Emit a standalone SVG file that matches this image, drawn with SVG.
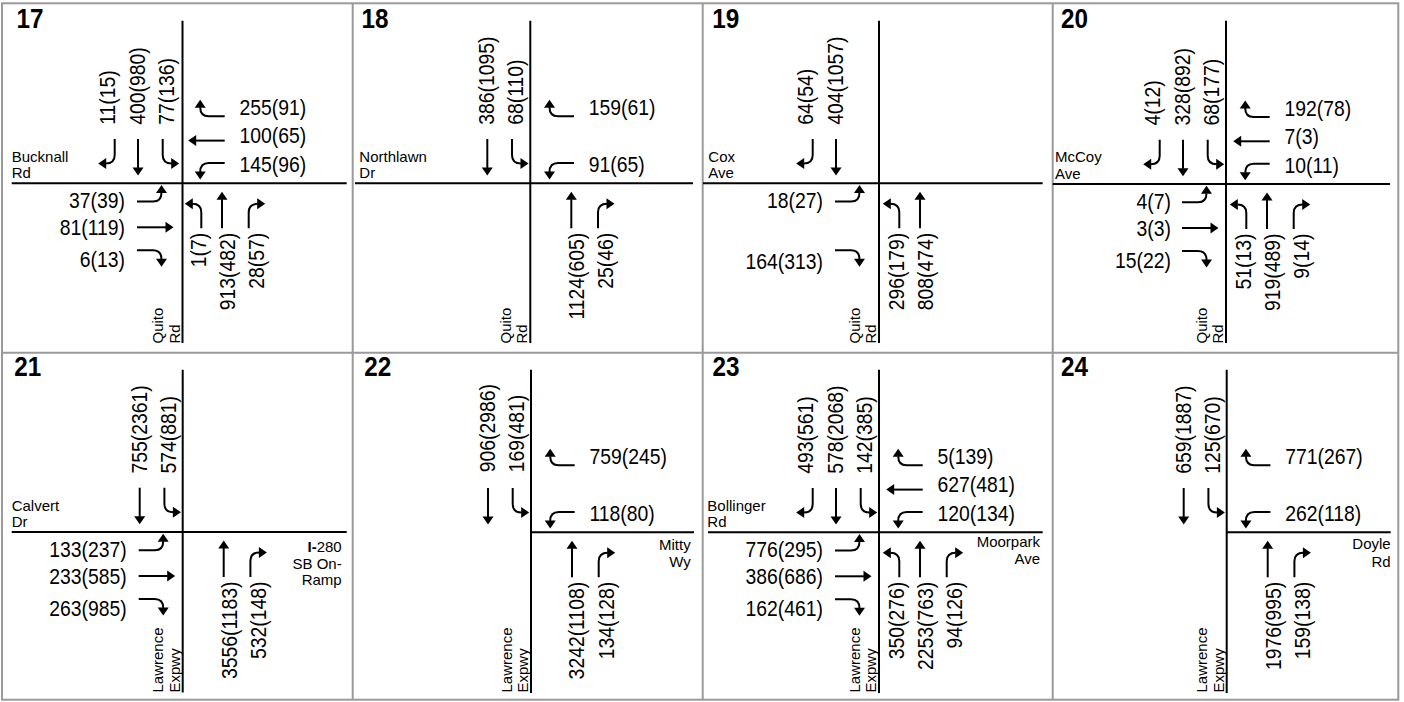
<svg xmlns="http://www.w3.org/2000/svg" width="1404" height="702" viewBox="0 0 1404 702">
<style>
.frame{fill:none;stroke:#9a9a9a;stroke-width:2}
.road{fill:none;stroke:#000;stroke-width:2}
.a{fill:none;stroke:#000;stroke-width:2;marker-end:url(#ah)}
.v{font-family:"Liberation Sans",Arial,sans-serif;font-size:22px;fill:#000}
.r{font-family:"Liberation Sans",Arial,sans-serif;font-size:15px;fill:#000}
.t{font-family:"Liberation Sans",Arial,sans-serif;font-size:27px;font-weight:bold;fill:#000}
.e{text-anchor:end}
</style>
<defs>
<marker id="ah" markerUnits="userSpaceOnUse" markerWidth="12" markerHeight="12" refX="0.5" refY="5.5" orient="auto" overflow="visible"><path d="M0,0 L8,5.5 L0,11 Z" fill="#000"/></marker>
<path id="dn" class="a" d="M0,0 V29"/>
<path id="dnL" class="a" d="M0,0 V16 Q0,24.5 -9,24.5"/>
<path id="dnR" class="a" d="M0,0 V16 Q0,24.5 9,24.5"/>
</defs>
<rect width="1404" height="702" fill="#fff"/>
<g id="frame">
<rect class="frame" x="2" y="3.3" width="1396.3" height="696.4"/>
<path class="frame" d="M352.7,3.3V699.7M702.7,3.3V699.7M1052.7,3.3V699.7M2,352.7H1398.3"/>
</g>

<g id="n17">
<text class="t" transform="translate(16.5,27.5) scale(.9,1)">17</text>
<path class="road" d="M182.5,20.7V343M11.7,183.3H346.7"/>
<text class="r" x="11.7" y="161.7">Bucknall</text>
<text class="r" x="11.7" y="178">Rd</text>
<text class="r" transform="translate(163,343.5) rotate(-90)">Quito</text>
<text class="r" transform="translate(179.5,343.5) rotate(-90)">Rd</text>
<g transform="translate(181,183.3)">
<g class="arrows">
<use href="#dnL" transform="translate(-66.3,-44.3)"/>
<use href="#dn" transform="translate(-43,-44.3)"/>
<use href="#dnR" transform="translate(-18.3,-44.3)"/>
<use href="#dnL" transform="translate(43.7,-67) rotate(90)"/>
<use href="#dn" transform="translate(43.7,-42.7) rotate(90)"/>
<use href="#dnR" transform="translate(43.7,-20.3) rotate(90)"/>
<use href="#dnR" transform="translate(-44,18.3) rotate(-90)"/>
<use href="#dn" transform="translate(-44,44) rotate(-90)"/>
<use href="#dnL" transform="translate(-44,67) rotate(-90)"/>
<use href="#dnR" transform="translate(20.3,45) rotate(180)"/>
<use href="#dn" transform="translate(41,45) rotate(180)"/>
<use href="#dnL" transform="translate(67.7,45) rotate(180)"/>
</g>
<text class="v" transform="translate(-66,-58.5) rotate(-90) scale(.88,1)">11(15)</text>
<text class="v" transform="translate(-36,-58.5) rotate(-90) scale(.88,1)">400(980)</text>
<text class="v" transform="translate(-7,-58.5) rotate(-90) scale(.88,1)">77(136)</text>
<text class="v" transform="translate(58.5,-68.5) scale(.88,1)">255(91)</text>
<text class="v" transform="translate(58.5,-40) scale(.88,1)">100(65)</text>
<text class="v" transform="translate(58.5,-11.5) scale(.88,1)">145(96)</text>
<text class="v e" transform="translate(-56,25) scale(.88,1)">37(39)</text>
<text class="v e" transform="translate(-56,52) scale(.88,1)">81(119)</text>
<text class="v e" transform="translate(-56,84) scale(.88,1)">6(13)</text>
<text class="v e" transform="translate(25,49.5) rotate(-90) scale(.88,1)">1(7)</text>
<text class="v e" transform="translate(54,49.5) rotate(-90) scale(.88,1)">913(482)</text>
<text class="v e" transform="translate(83,49.5) rotate(-90) scale(.88,1)">28(57)</text>
</g>
</g>

<g id="n18">
<text class="t" transform="translate(361.5,27.5) scale(.9,1)">18</text>
<path class="road" d="M530.3,20.7V343M355,183.3H693"/>
<text class="r" x="359.3" y="161.7">Northlawn</text>
<text class="r" x="359.3" y="178">Dr</text>
<text class="r" transform="translate(510.8,343.5) rotate(-90)">Quito</text>
<text class="r" transform="translate(527.3,343.5) rotate(-90)">Rd</text>
<g transform="translate(530.3,183.3)">
<g class="arrows">
<use href="#dn" transform="translate(-43,-44.3)"/>
<use href="#dnR" transform="translate(-18.3,-44.3)"/>
<use href="#dnL" transform="translate(43.7,-67) rotate(90)"/>
<use href="#dnR" transform="translate(43.7,-20.3) rotate(90)"/>
<use href="#dn" transform="translate(41,45) rotate(180)"/>
<use href="#dnL" transform="translate(67.7,45) rotate(180)"/>
</g>
<text class="v" transform="translate(-36,-58.5) rotate(-90) scale(.88,1)">386(1095)</text>
<text class="v" transform="translate(-7,-58.5) rotate(-90) scale(.88,1)">68(110)</text>
<text class="v" transform="translate(58.5,-68.5) scale(.88,1)">159(61)</text>
<text class="v" transform="translate(58.5,-11.5) scale(.88,1)">91(65)</text>
<text class="v e" transform="translate(54,49.5) rotate(-90) scale(.88,1)">1124(605)</text>
<text class="v e" transform="translate(83,49.5) rotate(-90) scale(.88,1)">25(46)</text>
</g>
</g>

<g id="n19">
<text class="t" transform="translate(712.3,27.5) scale(.9,1)">19</text>
<path class="road" d="M879,20.7V343M703,183.3H1042.7"/>
<text class="r" x="708.3" y="161.7">Cox</text>
<text class="r" x="708.3" y="178">Ave</text>
<text class="r" transform="translate(859.5,343.5) rotate(-90)">Quito</text>
<text class="r" transform="translate(876,343.5) rotate(-90)">Rd</text>
<g transform="translate(879,183.3)">
<g class="arrows">
<use href="#dnL" transform="translate(-66.3,-44.3)"/>
<use href="#dn" transform="translate(-43,-44.3)"/>
<use href="#dnR" transform="translate(-44,18.3) rotate(-90)"/>
<use href="#dnL" transform="translate(-44,67) rotate(-90)"/>
<use href="#dnR" transform="translate(20.3,45) rotate(180)"/>
<use href="#dn" transform="translate(41,45) rotate(180)"/>
</g>
<text class="v" transform="translate(-66,-58.5) rotate(-90) scale(.88,1)">64(54)</text>
<text class="v" transform="translate(-36,-58.5) rotate(-90) scale(.88,1)">404(1057)</text>
<text class="v e" transform="translate(-56,25) scale(.88,1)">18(27)</text>
<text class="v e" transform="translate(-56,86) scale(.88,1)">164(313)</text>
<text class="v e" transform="translate(25,49.5) rotate(-90) scale(.88,1)">296(179)</text>
<text class="v e" transform="translate(54,49.5) rotate(-90) scale(.88,1)">808(474)</text>
</g>
</g>

<g id="n20">
<text class="t" transform="translate(1061,27.5) scale(.9,1)">20</text>
<path class="road" d="M1226,20.7V343M1052.7,184H1390"/>
<text class="r" x="1055" y="162">McCoy</text>
<text class="r" x="1055" y="178.5">Ave</text>
<text class="r" transform="translate(1206.5,343.5) rotate(-90)">Quito</text>
<text class="r" transform="translate(1223,343.5) rotate(-90)">Rd</text>
<g transform="translate(1226,184)">
<g class="arrows">
<use href="#dnL" transform="translate(-66.3,-44.3)"/>
<use href="#dn" transform="translate(-43,-44.3)"/>
<use href="#dnR" transform="translate(-18.3,-44.3)"/>
<use href="#dnL" transform="translate(43.7,-67) rotate(90)"/>
<use href="#dn" transform="translate(43.7,-42.7) rotate(90)"/>
<use href="#dnR" transform="translate(43.7,-20.3) rotate(90)"/>
<use href="#dnR" transform="translate(-44,18.3) rotate(-90)"/>
<use href="#dn" transform="translate(-44,44) rotate(-90)"/>
<use href="#dnL" transform="translate(-44,67) rotate(-90)"/>
<use href="#dnR" transform="translate(20.3,45) rotate(180)"/>
<use href="#dn" transform="translate(41,45) rotate(180)"/>
<use href="#dnL" transform="translate(67.7,45) rotate(180)"/>
</g>
<text class="v" transform="translate(-66,-58.5) rotate(-90) scale(.88,1)">4(12)</text>
<text class="v" transform="translate(-36,-58.5) rotate(-90) scale(.88,1)">328(892)</text>
<text class="v" transform="translate(-7,-58.5) rotate(-90) scale(.88,1)">68(177)</text>
<text class="v" transform="translate(58.5,-68.5) scale(.88,1)">192(78)</text>
<text class="v" transform="translate(58.5,-40) scale(.88,1)">7(3)</text>
<text class="v" transform="translate(58.5,-11.5) scale(.88,1)">10(11)</text>
<text class="v e" transform="translate(-55,25) scale(.88,1)">4(7)</text>
<text class="v e" transform="translate(-55,52) scale(.88,1)">3(3)</text>
<text class="v e" transform="translate(-55,84) scale(.88,1)">15(22)</text>
<text class="v e" transform="translate(25,49.5) rotate(-90) scale(.88,1)">51(13)</text>
<text class="v e" transform="translate(54,49.5) rotate(-90) scale(.88,1)">919(489)</text>
<text class="v e" transform="translate(83,49.5) rotate(-90) scale(.88,1)">9(14)</text>
</g>
</g>

<g id="n21">
<text class="t" transform="translate(14.3,376.3) scale(.9,1)">21</text>
<path class="road" d="M182.7,369.7V692.5M11.7,532H346.7"/>
<text class="r" x="11.7" y="510.5">Calvert</text>
<text class="r" x="11.7" y="527">Dr</text>
<text class="r" transform="translate(163.2,692.5) rotate(-90)">Lawrence</text>
<text class="r" transform="translate(179.7,692.5) rotate(-90)">Expwy</text>
<text class="r e" x="341.7" y="552"><tspan font-weight="bold">I-</tspan>280</text>
<text class="r e" x="341.7" y="568.7">SB On-</text>
<text class="r e" x="341.7" y="585.3">Ramp</text>
<g transform="translate(182.7,532)">
<g class="arrows">
<use href="#dn" transform="translate(-43,-44.3)"/>
<use href="#dnR" transform="translate(-18.3,-44.3)"/>
<use href="#dnR" transform="translate(-44,18.3) rotate(-90)"/>
<use href="#dn" transform="translate(-44,44) rotate(-90)"/>
<use href="#dnL" transform="translate(-44,67) rotate(-90)"/>
<use href="#dn" transform="translate(41,45) rotate(180)"/>
<use href="#dnL" transform="translate(67.7,45) rotate(180)"/>
</g>
<text class="v" transform="translate(-36,-58.5) rotate(-90) scale(.88,1)">755(2361)</text>
<text class="v" transform="translate(-7,-58.5) rotate(-90) scale(.88,1)">574(881)</text>
<text class="v e" transform="translate(-56,25) scale(.88,1)">133(237)</text>
<text class="v e" transform="translate(-56,52) scale(.88,1)">233(585)</text>
<text class="v e" transform="translate(-56,84) scale(.88,1)">263(985)</text>
<text class="v e" transform="translate(54,49.5) rotate(-90) scale(.88,1)">3556(1183)</text>
<text class="v e" transform="translate(83,49.5) rotate(-90) scale(.88,1)">532(148)</text>
</g>
</g>

<g id="n22">
<text class="t" transform="translate(364.3,376.3) scale(.9,1)">22</text>
<path class="road" d="M531,369.7V693M531,532.3H694"/>
<text class="r" transform="translate(511.5,692.5) rotate(-90)">Lawrence</text>
<text class="r" transform="translate(528,692.5) rotate(-90)">Expwy</text>
<text class="r e" x="690.7" y="550">Mitty</text>
<text class="r e" x="690.7" y="567">Wy</text>
<g transform="translate(531,532.3)">
<g class="arrows">
<use href="#dn" transform="translate(-43,-44.3)"/>
<use href="#dnR" transform="translate(-18.3,-44.3)"/>
<use href="#dnL" transform="translate(43.7,-67) rotate(90)"/>
<use href="#dnR" transform="translate(43.7,-20.3) rotate(90)"/>
<use href="#dn" transform="translate(41,45) rotate(180)"/>
<use href="#dnL" transform="translate(67.7,45) rotate(180)"/>
</g>
<text class="v" transform="translate(-36,-60) rotate(-90) scale(.88,1)">906(2986)</text>
<text class="v" transform="translate(-7,-60) rotate(-90) scale(.88,1)">169(481)</text>
<text class="v" transform="translate(58.5,-68.5) scale(.88,1)">759(245)</text>
<text class="v" transform="translate(58.5,-11.5) scale(.88,1)">118(80)</text>
<text class="v e" transform="translate(53,49.5) rotate(-90) scale(.88,1)">3242(1108)</text>
<text class="v e" transform="translate(82.5,49.5) rotate(-90) scale(.88,1)">134(128)</text>
</g>
</g>

<g id="n23">
<text class="t" transform="translate(712.5,376.3) scale(.9,1)">23</text>
<path class="road" d="M879,369.7V693M708,532.3H1042.7"/>
<text class="r" x="707.3" y="511">Bollinger</text>
<text class="r" x="707.3" y="527">Rd</text>
<text class="r" transform="translate(859.5,692.5) rotate(-90)">Lawrence</text>
<text class="r" transform="translate(876,692.5) rotate(-90)">Expwy</text>
<text class="r e" x="1040" y="547.3">Moorpark</text>
<text class="r e" x="1040" y="564">Ave</text>
<g transform="translate(879,532.3)">
<g class="arrows">
<use href="#dnL" transform="translate(-66.3,-44.3)"/>
<use href="#dn" transform="translate(-43,-44.3)"/>
<use href="#dnR" transform="translate(-18.3,-44.3)"/>
<use href="#dnL" transform="translate(43.7,-67) rotate(90)"/>
<use href="#dn" transform="translate(43.7,-42.7) rotate(90)"/>
<use href="#dnR" transform="translate(43.7,-20.3) rotate(90)"/>
<use href="#dnR" transform="translate(-44,18.3) rotate(-90)"/>
<use href="#dn" transform="translate(-44,44) rotate(-90)"/>
<use href="#dnL" transform="translate(-44,67) rotate(-90)"/>
<use href="#dnR" transform="translate(20.3,45) rotate(180)"/>
<use href="#dn" transform="translate(41,45) rotate(180)"/>
<use href="#dnL" transform="translate(67.7,45) rotate(180)"/>
</g>
<text class="v" transform="translate(-66,-58.5) rotate(-90) scale(.88,1)">493(561)</text>
<text class="v" transform="translate(-36,-58.5) rotate(-90) scale(.88,1)">578(2068)</text>
<text class="v" transform="translate(-7,-58.5) rotate(-90) scale(.88,1)">142(385)</text>
<text class="v" transform="translate(58.5,-68.5) scale(.88,1)">5(139)</text>
<text class="v" transform="translate(58.5,-40) scale(.88,1)">627(481)</text>
<text class="v" transform="translate(58.5,-11.5) scale(.88,1)">120(134)</text>
<text class="v e" transform="translate(-56,25) scale(.88,1)">776(295)</text>
<text class="v e" transform="translate(-56,52) scale(.88,1)">386(686)</text>
<text class="v e" transform="translate(-56,84) scale(.88,1)">162(461)</text>
<text class="v e" transform="translate(25,49.5) rotate(-90) scale(.88,1)">350(276)</text>
<text class="v e" transform="translate(54,49.5) rotate(-90) scale(.88,1)">2253(763)</text>
<text class="v e" transform="translate(83,49.5) rotate(-90) scale(.88,1)">94(126)</text>
</g>
</g>

<g id="n24">
<text class="t" transform="translate(1061,376.3) scale(.9,1)">24</text>
<path class="road" d="M1226.7,369.7V693M1226.7,532.3H1390.7"/>
<text class="r" transform="translate(1207,692.5) rotate(-90)">Lawrence</text>
<text class="r" transform="translate(1223.5,692.5) rotate(-90)">Expwy</text>
<text class="r e" x="1390.7" y="549">Doyle</text>
<text class="r e" x="1390.7" y="567">Rd</text>
<g transform="translate(1226.7,532.3)">
<g class="arrows">
<use href="#dn" transform="translate(-43,-44.3)"/>
<use href="#dnR" transform="translate(-18.3,-44.3)"/>
<use href="#dnL" transform="translate(43.7,-67) rotate(90)"/>
<use href="#dnR" transform="translate(43.7,-20.3) rotate(90)"/>
<use href="#dn" transform="translate(41,45) rotate(180)"/>
<use href="#dnL" transform="translate(67.7,45) rotate(180)"/>
</g>
<text class="v" transform="translate(-36,-58.5) rotate(-90) scale(.88,1)">659(1887)</text>
<text class="v" transform="translate(-7,-58.5) rotate(-90) scale(.88,1)">125(670)</text>
<text class="v" transform="translate(58.5,-68.5) scale(.88,1)">771(267)</text>
<text class="v" transform="translate(58.5,-11.5) scale(.88,1)">262(118)</text>
<text class="v e" transform="translate(54,49.5) rotate(-90) scale(.88,1)">1976(995)</text>
<text class="v e" transform="translate(83,49.5) rotate(-90) scale(.88,1)">159(138)</text>
</g>
</g>
</svg>
